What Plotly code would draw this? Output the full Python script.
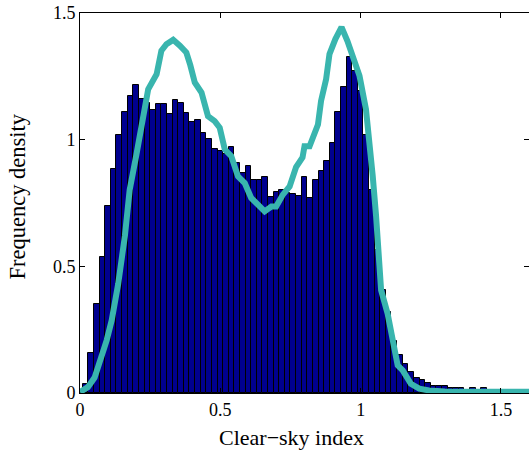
import plotly.graph_objects as go

# Histogram: bin centres at k * 0.02, heights
bin_width = 0.02
bar_heights = [
    0.01, 0.036, 0.158, 0.35, 0.536, 0.739, 0.885, 1.02, 1.109, 1.172,
    1.215, 1.16, 1.146, 1.117, 1.142, 1.142, 1.103, 1.157, 1.144, 1.105,
    1.071, 1.077, 1.028, 1.004, 0.963, 0.955, 0.945, 0.972, 0.908, 0.867,
    0.898, 0.842, 0.842, 0.851, 0.774, 0.795, 0.80, 0.79, 0.787, 0.779,
    0.853, 0.77, 0.842, 0.875, 0.915, 0.988, 1.109, 1.206, 1.325, 1.27,
    1.192, 1.02, 0.80, 0.565, 0.406, 0.32, 0.205, 0.149, 0.116, 0.083,
    0.06, 0.05, 0.039, 0.027, 0.027, 0.027, 0.018, 0.018, 0.018, 0.004,
    0.02, 0.004, 0.02, 0.0, 0.0, 0.0, 0.0, 0.0, 0.0, 0.0,
]
bar_centers = [round(k * bin_width, 4) for k in range(len(bar_heights))]

# Density curve (teal)
curve_x = [0.0, 0.028, 0.052, 0.076, 0.095, 0.113, 0.136, 0.16, 0.177, 0.201,
           0.224, 0.243, 0.273, 0.29, 0.308, 0.332, 0.356, 0.379, 0.393, 0.409,
           0.433, 0.456, 0.48, 0.498, 0.516, 0.539, 0.563, 0.587, 0.61, 0.634,
           0.658, 0.682, 0.699, 0.723, 0.747, 0.77, 0.793, 0.8, 0.818, 0.848,
           0.859, 0.877, 0.889, 0.91, 0.932, 0.953, 0.972, 0.996, 1.019, 1.031,
           1.043, 1.055, 1.065, 1.073, 1.096, 1.12, 1.132, 1.15, 1.162, 1.179,
           1.209, 1.244, 1.3, 1.6]
curve_y = [0.004, 0.023, 0.061, 0.137, 0.208, 0.287, 0.43, 0.62, 0.802, 0.941,
           1.08, 1.199, 1.258, 1.351, 1.377, 1.394, 1.371, 1.344, 1.294, 1.226,
           1.186, 1.093, 1.073, 1.047, 0.961, 0.935, 0.855, 0.829, 0.77, 0.743,
           0.717, 0.736, 0.736, 0.783, 0.815, 0.892, 0.93, 0.974, 0.974, 1.06,
           1.153, 1.239, 1.338, 1.397, 1.444, 1.389, 1.331, 1.252, 1.12, 1.001,
           0.858, 0.70, 0.525, 0.406, 0.314, 0.182, 0.109, 0.089, 0.063, 0.036,
           0.017, 0.01, 0.006, 0.005]

tick_vals_x = [0, 0.5, 1, 1.5]
tick_text_x = ["0", "0.5", "1", "1.5"]
tick_vals_y = [0, 0.5, 1, 1.5]
tick_text_y = ["0", "0.5", "1", "1.5"]
x_title = "Clear\u2212sky index"
y_title = "Frequency density"

font_family = "Liberation Serif, Times New Roman, serif"

fig = go.Figure()
fig.add_trace(go.Bar(
    x=bar_centers, y=bar_heights, width=bin_width,
    marker=dict(color="#00008f", line=dict(color="black", width=1)),
    showlegend=False,
))
fig.add_trace(go.Scatter(
    x=curve_x, y=curve_y, mode="lines",
    line=dict(color="#39b5ae", width=6),
    showlegend=False,
))
# right-side ticks without a right axis line
fig.add_trace(go.Scatter(x=[None], y=[None], yaxis="y2", showlegend=False))

fig.update_layout(
    width=529, height=454,
    margin=dict(l=80, r=0, t=13, b=61),
    plot_bgcolor="white", paper_bgcolor="white",
    font=dict(family=font_family, size=18, color="black"),
    bargap=0,
    xaxis=dict(
        range=[0, 1.6], tickvals=tick_vals_x, ticktext=tick_text_x,
        ticks="inside", ticklen=5, tickcolor="black",
        showline=True, linecolor="black", linewidth=1, mirror="ticks",
        showgrid=False, zeroline=False,
        tickfont=dict(size=18),
    ),
    yaxis=dict(
        range=[0, 1.5], tickvals=tick_vals_y, ticktext=tick_text_y,
        ticks="inside", ticklen=5, tickcolor="black",
        showline=True, linecolor="black", linewidth=1, mirror=False,
        showgrid=False, zeroline=False,
        tickfont=dict(size=18),
    ),
    yaxis2=dict(
        overlaying="y", side="right", range=[0, 1.5], tickvals=tick_vals_y,
        ticks="inside", ticklen=5, tickcolor="black", showticklabels=False,
        showline=False, showgrid=False, zeroline=False,
    ),
    annotations=[
        dict(text=x_title, xref="paper", yref="paper", x=0.4715, y=-0.116,
             xanchor="center", yanchor="middle", showarrow=False,
             font=dict(size=22)),
        dict(text=y_title, xref="paper", yref="paper", x=-0.138, y=0.517,
             xanchor="center", yanchor="middle", showarrow=False,
             textangle=-90, font=dict(size=22.5)),
    ],
)

fig.write_html("out.html")
